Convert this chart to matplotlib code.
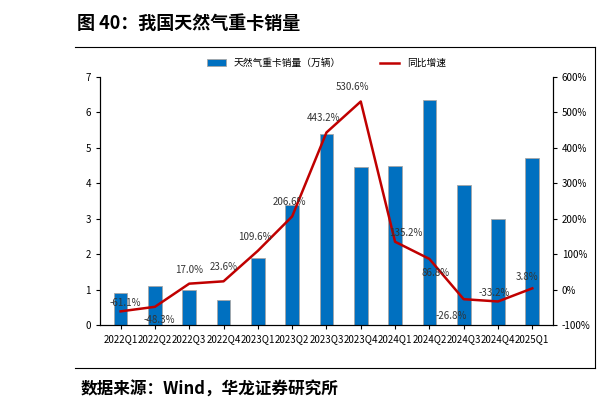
import matplotlib.pyplot as plt
import numpy as np

plt.rcParams['font.family'] = ['Noto Sans CJK SC', 'DejaVu Sans']

quarters = ['2022Q1', '2022Q2', '2022Q3', '2022Q4', '2023Q1', '2023Q2', '2023Q3',
            '2023Q4', '2024Q1', '2024Q2', '2024Q3', '2024Q4', '2025Q1']
sales = [0.9, 1.1, 1.0, 0.7, 1.9, 3.4, 5.4, 4.45, 4.5, 6.35, 3.95, 3.0, 4.7]
growth = [-61.1, -48.3, 17.0, 23.6, 109.6, 206.6, 443.2, 530.6, 135.2, 86.8, -26.8, -33.2, 3.8]
label_off = [(-8, 4), (-8, -12), (-10, 8), (-10, 8), (-14, 8), (-14, 8), (-14, 8),
             (-18, 8), (-4, 4), (-6, -12), (-20, -14), (-14, 4), (-12, 6)]

fig = plt.figure(figsize=(5.99, 4.09), dpi=100)
ax = fig.add_axes([0.167, 0.205, 0.756, 0.607])
x = np.arange(len(quarters))
bars = ax.bar(x, sales, width=0.4, color='#0070c0', edgecolor='#a6a6a6', linewidth=0.6)
ax.set_ylim(0, 7)
ax.set_xlim(-0.6, len(quarters) - 0.4)
ax.set_xticks(x)
ax.set_xticklabels(quarters, fontsize=6.8)
ax.tick_params(labelsize=7, length=3)
ax.spines['top'].set_visible(False)

ax2 = ax.twinx()
line, = ax2.plot(x, growth, color='#c00000', lw=1.8)
ax2.set_ylim(-100, 600)
ax2.set_yticks(range(-100, 601, 100))
ax2.set_yticklabels([f'{v}%' for v in range(-100, 601, 100)])
ax2.tick_params(labelsize=7, length=3)
ax2.spines['top'].set_visible(False)
for xi, g, off in zip(x, growth, label_off):
    ax2.annotate(f'{g:.1f}%', (xi, g), xytext=off, textcoords='offset points',
                 fontsize=7, color='#333333')

ax.legend([bars, line], ['天然气重卡销量（万辆）', '同比增速'], loc='lower center',
          bbox_to_anchor=(0.5, 1.0), ncol=2, frameon=False, fontsize=7, columnspacing=4)

fig.text(0.128, 0.93, '图 40：我国天然气重卡销量', fontsize=13, fontweight='bold')
fig.text(0.135, 0.035, '数据来源：Wind，华龙证券研究所', fontsize=12, fontweight='bold')
fig.add_artist(plt.Line2D([0.125, 0.993], [0.885, 0.885], color='black', lw=0.8))
fig.add_artist(plt.Line2D([0.993, 0.993], [0.885, 0.10], color='black', lw=0.8))
fig.add_artist(plt.Line2D([0.125, 0.993], [0.10, 0.10], color='black', lw=0.8))
fig.savefig('out.png')
